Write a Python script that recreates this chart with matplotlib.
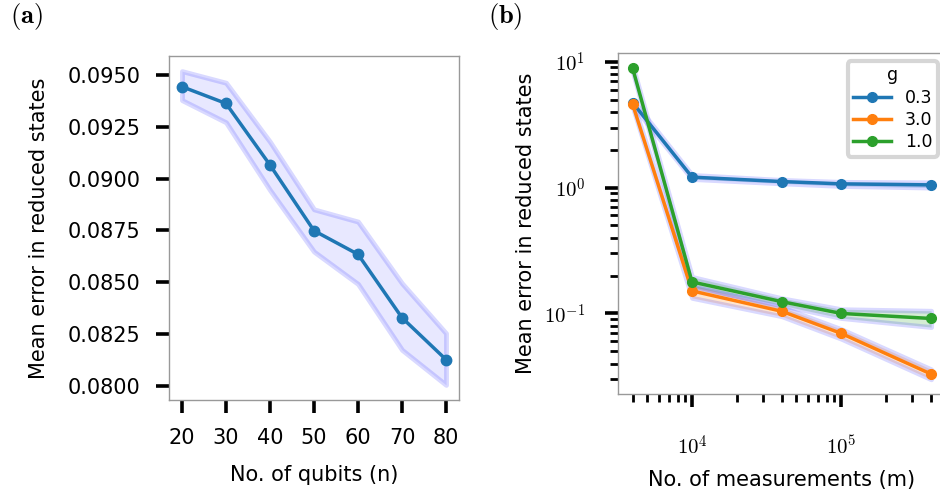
import numpy as np
import matplotlib
matplotlib.use("Agg")
import matplotlib.pyplot as plt
from matplotlib.ticker import FuncFormatter, LogLocator, NullFormatter

plt.rcParams['font.family'] = ['DejaVu Sans']
plt.rcParams['mathtext.fontset'] = 'cm'

# panel (a): error vs number of qubits
qubits = [20, 30, 40, 50, 60, 70, 80]
err_a = [0.09444, 0.09363, 0.09066, 0.08749, 0.08635, 0.08329, 0.08127]
err_a_hi = [0.09519, 0.09463, 0.09178, 0.08852, 0.08793, 0.08495, 0.08254]
err_a_lo = [0.09379, 0.09272, 0.08945, 0.08648, 0.08492, 0.08174, 0.08005]
yticks_a = [0.0800, 0.0825, 0.0850, 0.0875, 0.0900, 0.0925, 0.0950]

# panel (b): error vs number of measurements, per g
meas = [4000, 10000, 40000, 100000, 400000]
g_labels = ['0.3', '3.0', '1.0']
err_g03 = [4.73, 1.21, 1.116, 1.07, 1.05]
err_g30 = [4.59, 0.151, 0.104, 0.0694, 0.033]
err_g10 = [8.87, 0.178, 0.124, 0.100, 0.0912]
hi_g03 = [4.95, 1.26, 1.15, 1.11, 1.10]
lo_g03 = [4.50, 1.17, 1.08, 1.03, 1.00]
hi_g30 = [4.80, 0.168, 0.112, 0.075, 0.036]
lo_g30 = [4.40, 0.133, 0.095, 0.063, 0.030]
hi_g10 = [9.30, 0.195, 0.132, 0.108, 0.105]
lo_g10 = [8.40, 0.163, 0.116, 0.092, 0.078]
colors = ['#1f77b4', '#ff7f0e', '#2ca02c']

fig = plt.figure(figsize=(9.4, 4.94), dpi=100)

def style(ax):
    for s in ax.spines.values():
        s.set_color('#999999')
        s.set_linewidth(1.0)
    ax.tick_params(which='major', length=9.5, width=2.6, color='black', direction='out')
    ax.tick_params(which='minor', length=5.5, width=2.0, color='black', direction='out')

edge = (0, 0, 1, 0.15)

ax1 = fig.add_axes([169/940, 94/494, 290/940, 344/494])
ax1.fill_between(qubits, err_a_lo, err_a_hi, facecolor=(0, 0, 1, 0.09),
                 edgecolor=edge, linewidth=3.5)
ax1.plot(qubits, err_a, '-o', color=colors[0], lw=2.5, ms=7.5)
ax1.set_xticks(qubits)
ax1.set_yticks(yticks_a)
ax1.yaxis.set_major_formatter(FuncFormatter(lambda v, p: '%.4f' % v))
ax1.set_ylim(0.07932, 0.09592)
ax1.set_xlim(17.05, 82.95)
style(ax1)
ax1.tick_params(axis='y', pad=11, labelsize=15)
ax1.tick_params(axis='x', pad=11, labelsize=15)
ax1.set_xlabel('No. of qubits (n)', fontsize=15, labelpad=12)
ax1.set_ylabel('Mean error in reduced states', fontsize=15, labelpad=13)

ax2 = fig.add_axes([617.7/940, 100/494, 328.3/940, 341.3/494])
series = [(err_g03, lo_g03, hi_g03), (err_g30, lo_g30, hi_g30), (err_g10, lo_g10, hi_g10)]
for (y, lo, hi), c, lab in zip(series, colors, g_labels):
    ax2.fill_between(meas, lo, hi, facecolor=matplotlib.colors.to_rgba(c, 0.2),
                     edgecolor=edge, linewidth=3.5)
for (y, lo, hi), c, lab in zip(series, colors, g_labels):
    ax2.plot(meas, y, '-o', color=c, lw=2.5, ms=7, label=lab)
ax2.set_xscale('log')
ax2.set_yscale('log')
ax2.set_xlim(10**3.502, 10**5.702)
ax2.set_ylim(10**-1.640, 10**1.0714)
ax2.xaxis.set_major_locator(LogLocator(base=10))
ax2.xaxis.set_minor_locator(LogLocator(base=10, subs=np.arange(2, 10)))
ax2.xaxis.set_minor_formatter(NullFormatter())
ax2.yaxis.set_minor_locator(LogLocator(base=10, subs=np.arange(2, 10)))
ax2.yaxis.set_minor_formatter(NullFormatter())
fmt = FuncFormatter(lambda v, p: r'$10^{%d}$' % round(np.log10(v)))
ax2.xaxis.set_major_formatter(fmt)
ax2.yaxis.set_major_formatter(fmt)
style(ax2)
ax2.tick_params(axis='y', which='major', pad=14, labelsize=15)
ax2.tick_params(axis='x', which='major', pad=20, labelsize=15)
ax2.set_xlabel('No. of measurements (m)', fontsize=15, labelpad=8)
ax2.set_ylabel('Mean error in reduced states', fontsize=15, labelpad=6)
leg = ax2.legend(title='g', fontsize=12.5, title_fontsize=12.5, loc='upper left',
                 bbox_to_anchor=(0.70, 0.975), frameon=True, fancybox=True,
                 handlelength=2.2, handletextpad=0.8, borderpad=0.3,
                 labelspacing=0.25, borderaxespad=0)
leg.get_frame().set_edgecolor('#cccccc')
leg.get_frame().set_linewidth(3)

fig.text(10/940, 1 - 16/494, r'$\mathbf{(a)}$', fontsize=19, va='center', ha='left')
fig.text(488/940, 1 - 16/494, r'$\mathbf{(b)}$', fontsize=19, va='center', ha='left')

fig.savefig('out.png', dpi=100)
